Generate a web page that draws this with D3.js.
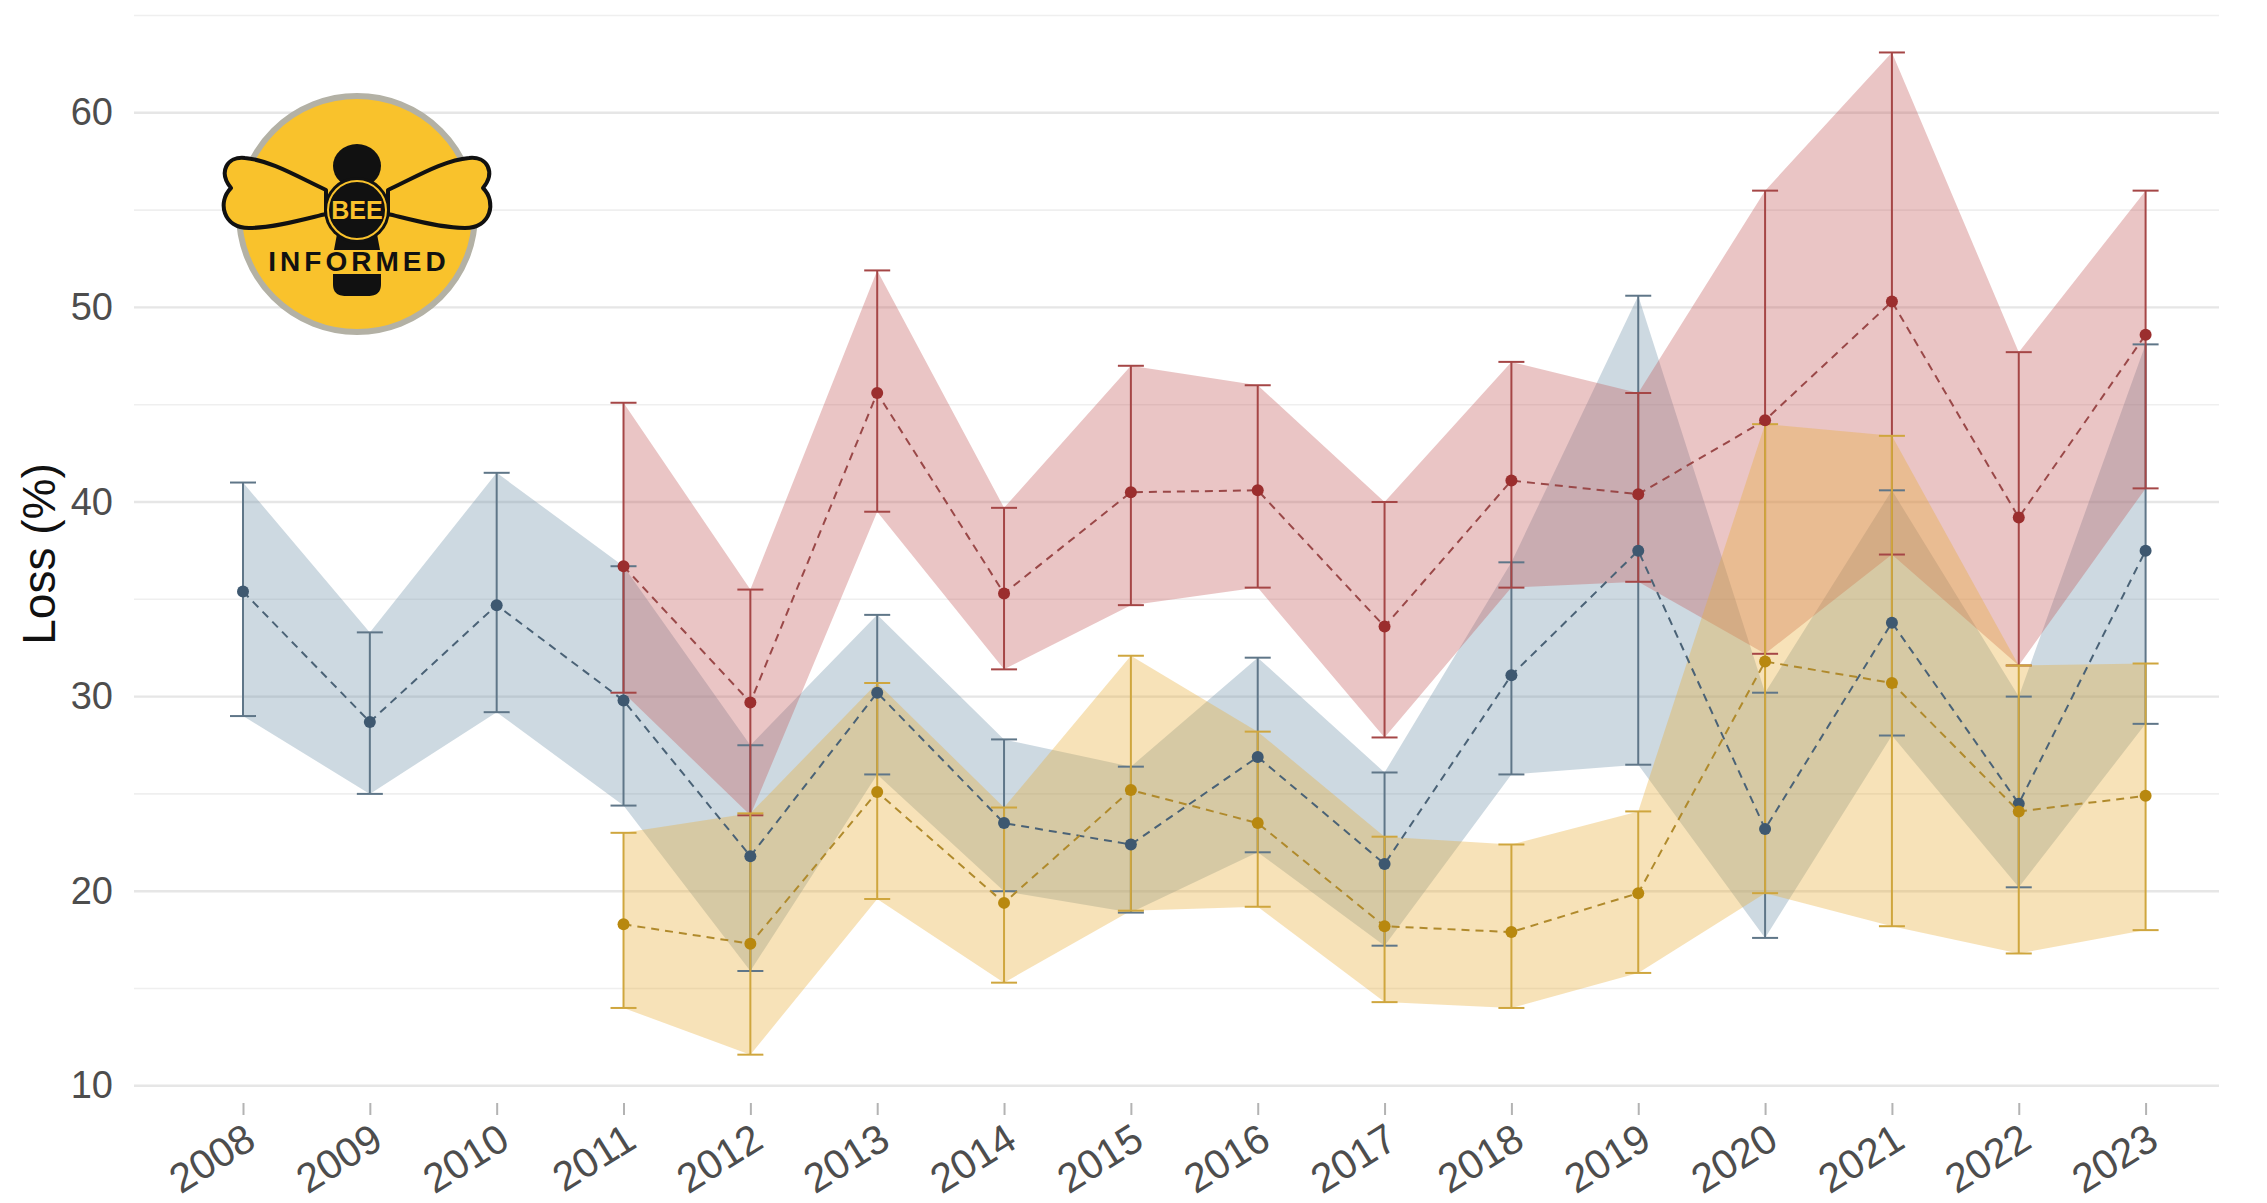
<!DOCTYPE html>
<html>
<head>
<meta charset="utf-8">
<title>Colony loss (%)</title>
<script src="https://cdn.jsdelivr.net/npm/d3@7"></script>
<style>
  html, body { margin: 0; padding: 0; background: #ffffff; }
  svg { display: block; }
  text { font-family: "Liberation Sans", Arial, Helvetica, sans-serif; }
</style>
</head>
<body>
<svg id="chart" width="2267" height="1203"></svg>
<script>
// Survey years
const years = [2008, 2009, 2010, 2011, 2012, 2013, 2014, 2015, 2016, 2017, 2018, 2019, 2020, 2021, 2022, 2023];

// Winter loss: estimate with lower / upper bound
const winterLoss = [35.4, 28.7, 34.7, 29.8, 21.8, 30.2, 23.5, 22.4, 26.9, 21.4, 31.1, 37.5, 23.2, 33.8, 24.5, 37.5];
const winterLow  = [29.0, 25.0, 29.2, 24.4, 15.9, 26.0, 20.0, 18.9, 22.0, 17.2, 26.0, 26.5, 17.6, 28.0, 20.2, 28.6];
const winterHigh = [41.0, 33.3, 41.5, 36.7, 27.5, 34.2, 27.8, 26.4, 32.0, 26.1, 36.9, 50.6, 30.2, 40.6, 30.0, 48.1];

// Annual loss (from 2011)
const annualYears = [2011, 2012, 2013, 2014, 2015, 2016, 2017, 2018, 2019, 2020, 2021, 2022, 2023];
const annualLoss = [36.7, 29.7, 45.6, 35.3, 40.5, 40.6, 33.6, 41.1, 40.4, 44.2, 50.3, 39.2, 48.6];
const annualLow  = [30.2, 23.9, 39.5, 31.4, 34.7, 35.6, 27.9, 35.6, 35.9, 32.2, 37.3, 31.6, 40.7];
const annualHigh = [45.1, 35.5, 51.9, 39.7, 47.0, 46.0, 40.0, 47.2, 45.6, 56.0, 63.1, 47.7, 56.0];

// Summer loss (from 2011)
const summerYears = [2011, 2012, 2013, 2014, 2015, 2016, 2017, 2018, 2019, 2020, 2021, 2022, 2023];
const summerLoss = [18.3, 17.3, 25.1, 19.4, 25.2, 23.5, 18.2, 17.9, 19.9, 31.8, 30.7, 24.1, 24.9];
const summerLow  = [14.0, 11.6, 19.6, 15.3, 19.0, 19.2, 14.3, 14.0, 15.8, 19.9, 18.2, 16.8, 18.0];
const summerHigh = [23.0, 24.0, 30.7, 24.3, 32.1, 28.2, 22.8, 22.4, 24.1, 44.0, 43.4, 31.6, 31.7];

// Axis ticks
const majorTicks = [10, 20, 30, 40, 50, 60];
const minorTicks = [15, 25, 35, 45, 55, 65];

const series = [
  { name: "winter", years: years, est: winterLoss, lo: winterLow, hi: winterHigh,
    fill: "#7092a9", bar: "#5f7688", line: "#4a6276", point: "#3e5870" },
  { name: "annual", years: annualYears, est: annualLoss, lo: annualLow, hi: annualHigh,
    fill: "#c45a5a", bar: "#a54646", line: "#9a4848", point: "#9b2e2e" },
  { name: "summer", years: summerYears, est: summerLoss, lo: summerLow, hi: summerHigh,
    fill: "#e8ac34", bar: "#cfa63e", line: "#b08a2c", point: "#b8880f" }
];

const svg = d3.select("#chart");

const x = d3.scaleLinear().domain([2008, 2023]).range([243, 2145.6]);
const y = d3.scaleLinear().domain([10, 60]).range([1085.8, 112.8]);
const gridLeft = 134, gridRight = 2219;

// Grid
const grid = svg.append("g");
grid.selectAll("line.minor").data(minorTicks).join("line")
  .attr("class", "minor")
  .attr("x1", gridLeft).attr("x2", gridRight)
  .attr("y1", d => y(d)).attr("y2", d => y(d))
  .attr("stroke", "#efefef").attr("stroke-width", 1.6);
grid.selectAll("line.major").data(majorTicks).join("line")
  .attr("class", "major")
  .attr("x1", gridLeft).attr("x2", gridRight)
  .attr("y1", d => y(d)).attr("y2", d => y(d))
  .attr("stroke", "#e6e6e6").attr("stroke-width", 2.4);

// Y axis labels
const yAxis = svg.append("g")
  .attr("transform", `translate(${gridLeft},0)`)
  .call(d3.axisLeft(y).tickValues(majorTicks).tickSize(0).tickPadding(21));
yAxis.select(".domain").remove();
yAxis.selectAll("text")
  .attr("fill", "#4d4d4d")
  .style("font-size", "38px");

// X axis
const xAxis = svg.append("g")
  .attr("transform", "translate(0,1103)")
  .call(d3.axisBottom(x).tickValues(years).tickFormat(d3.format("d")).tickSizeInner(12).tickSizeOuter(0));
xAxis.select(".domain").remove();
xAxis.selectAll(".tick line").attr("stroke", "#b3b3b3").attr("stroke-width", 2);
xAxis.selectAll("text")
  .attr("x", 0).attr("y", 0).attr("dy", "0.72em")
  .attr("text-anchor", "end")
  .attr("transform", "translate(-1,18) rotate(-32)")
  .attr("fill", "#4d4d4d")
  .style("font-size", "41px");

// Y axis title
svg.append("text")
  .attr("transform", "translate(55,554) rotate(-90)")
  .attr("text-anchor", "middle")
  .attr("fill", "#111")
  .style("font-size", "46px")
  .text("Loss (%)");

// Confidence bands
const area = d3.area()
  .x(d => x(d.year))
  .y0(d => y(d.lo))
  .y1(d => y(d.hi));

function rows(s) {
  return s.years.map((yr, i) => ({ year: yr, est: s.est[i], lo: s.lo[i], hi: s.hi[i] }));
}

const bands = svg.append("g");
series.forEach(s => {
  bands.append("path")
    .datum(rows(s))
    .attr("d", area)
    .attr("fill", s.fill)
    .attr("fill-opacity", 0.35);
});

// Error bars
const cap = 13;
series.forEach(s => {
  const g = svg.append("g").attr("stroke", s.bar).attr("stroke-width", 2).attr("fill", "none");
  const data = rows(s);
  g.selectAll("line.v").data(data).join("line")
    .attr("x1", d => x(d.year)).attr("x2", d => x(d.year))
    .attr("y1", d => y(d.lo)).attr("y2", d => y(d.hi));
  g.selectAll("line.top").data(data).join("line")
    .attr("x1", d => x(d.year) - cap).attr("x2", d => x(d.year) + cap)
    .attr("y1", d => y(d.hi)).attr("y2", d => y(d.hi));
  g.selectAll("line.bot").data(data).join("line")
    .attr("x1", d => x(d.year) - cap).attr("x2", d => x(d.year) + cap)
    .attr("y1", d => y(d.lo)).attr("y2", d => y(d.lo));
});

// Dashed trend lines and points
const line = d3.line().x(d => x(d.year)).y(d => y(d.est));
series.forEach(s => {
  const data = rows(s);
  svg.append("path")
    .datum(data)
    .attr("d", line)
    .attr("fill", "none")
    .attr("stroke", s.line)
    .attr("stroke-width", 2)
    .attr("stroke-dasharray", "8,6");
  svg.append("g").selectAll("circle").data(data).join("circle")
    .attr("cx", d => x(d.year)).attr("cy", d => y(d.est))
    .attr("r", 6)
    .attr("fill", s.point);
});

// Bee Informed badge
const logo = svg.append("g").attr("transform", "translate(357,214)");
logo.append("circle").attr("r", 118).attr("fill", "#f9c22c")
  .attr("stroke", "#b3b1a5").attr("stroke-width", 6);

const wingL = "M -31,-24 C -57,-36 -87,-54 -112,-56 C -130,-58 -139,-42 -126,-26 C -140,-12 -134,14 -108,14 C -83,14 -52,5 -31,0 Z";
logo.append("path").attr("d", wingL).attr("fill", "#f9c22c")
  .attr("stroke", "#111").attr("stroke-width", 4).attr("stroke-linejoin", "round");
logo.append("path").attr("d", wingL).attr("transform", "scale(-1,1)").attr("fill", "#f9c22c")
  .attr("stroke", "#111").attr("stroke-width", 4).attr("stroke-linejoin", "round");

// body segments
logo.append("ellipse").attr("cx", 0).attr("cy", -48).attr("rx", 24).attr("ry", 22).attr("fill", "#111");
logo.append("rect").attr("x", -14).attr("y", -40).attr("width", 28).attr("height", 20).attr("fill", "#111");
logo.append("path").attr("d", "M -20,20 L 20,20 L 23,36 L -23,36 Z").attr("fill", "#111");
logo.append("path").attr("d", "M -24,60 L 24,60 L 24,70 C 24,84 12,82 0,82 C -12,82 -24,84 -24,70 Z").attr("fill", "#111");
logo.append("circle").attr("cy", -4).attr("r", 33).attr("fill", "#111");
logo.append("circle").attr("cy", -4).attr("r", 29).attr("fill", "none").attr("stroke", "#f9c22c").attr("stroke-width", 2);
logo.append("text").attr("x", 0).attr("y", 5).attr("text-anchor", "middle")
  .attr("fill", "#f9c22c").style("font-size", "25px").style("font-weight", "bold").text("BEE");
logo.append("text").attr("x", 2).attr("y", 57).attr("text-anchor", "middle")
  .attr("fill", "#111").style("font-size", "28px").style("font-weight", "bold")
  .style("letter-spacing", "4px").text("INFORMED");
</script>
</body>
</html>
